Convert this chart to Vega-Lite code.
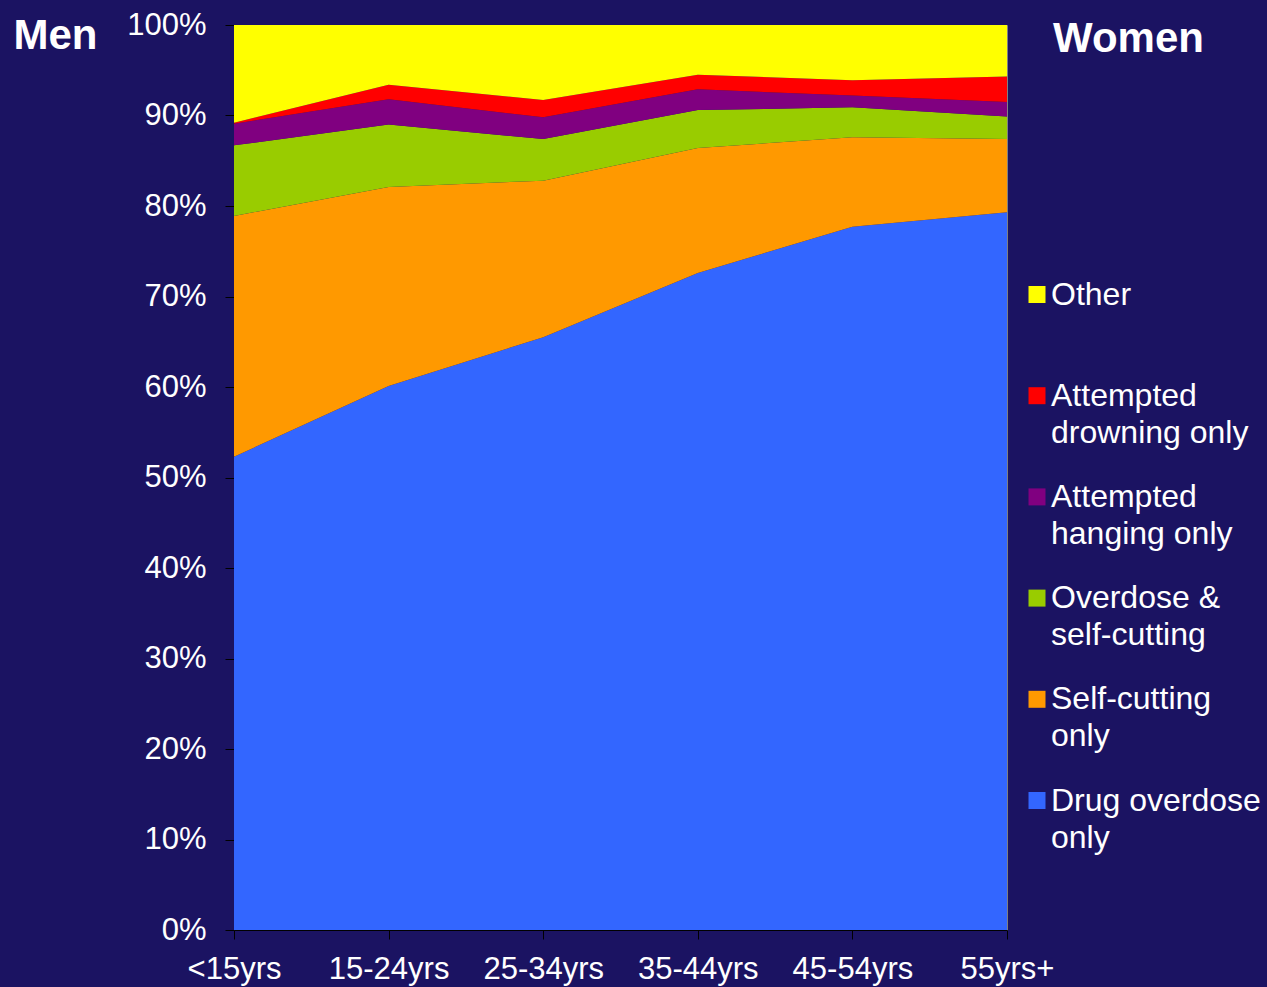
{
  "$schema": "https://vega.github.io/schema/vega-lite/v6.json",
  "width": 773,
  "height": 905,
  "autosize": {"type": "none"},
  "padding": {"left": 234, "top": 25, "right": 260, "bottom": 57},
  "background": "#1b1362",
  "data": {
    "values": [
      {"age": "<15yrs", "method": "Drug overdose only", "pct": 52.3},
      {"age": "<15yrs", "method": "Self-cutting only", "pct": 26.6},
      {"age": "<15yrs", "method": "Overdose & self-cutting", "pct": 7.8},
      {"age": "<15yrs", "method": "Attempted hanging only", "pct": 2.4},
      {"age": "<15yrs", "method": "Attempted drowning only", "pct": 0.1},
      {"age": "<15yrs", "method": "Other", "pct": 10.8},
      {"age": "15-24yrs", "method": "Drug overdose only", "pct": 60.1},
      {"age": "15-24yrs", "method": "Self-cutting only", "pct": 22.0},
      {"age": "15-24yrs", "method": "Overdose & self-cutting", "pct": 6.9},
      {"age": "15-24yrs", "method": "Attempted hanging only", "pct": 2.8},
      {"age": "15-24yrs", "method": "Attempted drowning only", "pct": 1.6},
      {"age": "15-24yrs", "method": "Other", "pct": 6.6},
      {"age": "25-34yrs", "method": "Drug overdose only", "pct": 65.5},
      {"age": "25-34yrs", "method": "Self-cutting only", "pct": 17.3},
      {"age": "25-34yrs", "method": "Overdose & self-cutting", "pct": 4.6},
      {"age": "25-34yrs", "method": "Attempted hanging only", "pct": 2.4},
      {"age": "25-34yrs", "method": "Attempted drowning only", "pct": 1.9},
      {"age": "25-34yrs", "method": "Other", "pct": 8.3},
      {"age": "35-44yrs", "method": "Drug overdose only", "pct": 72.6},
      {"age": "35-44yrs", "method": "Self-cutting only", "pct": 13.8},
      {"age": "35-44yrs", "method": "Overdose & self-cutting", "pct": 4.2},
      {"age": "35-44yrs", "method": "Attempted hanging only", "pct": 2.3},
      {"age": "35-44yrs", "method": "Attempted drowning only", "pct": 1.6},
      {"age": "35-44yrs", "method": "Other", "pct": 5.5},
      {"age": "45-54yrs", "method": "Drug overdose only", "pct": 77.7},
      {"age": "45-54yrs", "method": "Self-cutting only", "pct": 9.9},
      {"age": "45-54yrs", "method": "Overdose & self-cutting", "pct": 3.3},
      {"age": "45-54yrs", "method": "Attempted hanging only", "pct": 1.3},
      {"age": "45-54yrs", "method": "Attempted drowning only", "pct": 1.7},
      {"age": "45-54yrs", "method": "Other", "pct": 6.1},
      {"age": "55yrs+", "method": "Drug overdose only", "pct": 79.3},
      {"age": "55yrs+", "method": "Self-cutting only", "pct": 8.1},
      {"age": "55yrs+", "method": "Overdose & self-cutting", "pct": 2.5},
      {"age": "55yrs+", "method": "Attempted hanging only", "pct": 1.6},
      {"age": "55yrs+", "method": "Attempted drowning only", "pct": 2.8},
      {"age": "55yrs+", "method": "Other", "pct": 5.7}
    ]
  },
  "transform": [
    {"calculate": "indexof(['Drug overdose only', 'Self-cutting only', 'Overdose & self-cutting', 'Attempted hanging only', 'Attempted drowning only', 'Other'], datum.method)", "as": "rank"}
  ],
  "mark": {"type": "area", "interpolate": "linear", "opacity": 1, "strokeWidth": 0},
  "encoding": {
    "x": {
      "field": "age",
      "type": "ordinal",
      "sort": ["<15yrs", "15-24yrs", "25-34yrs", "35-44yrs", "45-54yrs", "55yrs+"],
      "scale": {"type": "point", "padding": 0},
      "axis": {
        "title": null,
        "labelAngle": 0,
        "labelFont": "Liberation Sans",
        "labelFontSize": 31,
        "labelColor": "#ffffff",
        "labelPadding": 15,
        "tickSize": 9,
        "tickColor": "#000000",
        "domainColor": "#000000",
        "grid": false
      }
    },
    "y": {
      "field": "pct",
      "type": "quantitative",
      "stack": "normalize",
      "scale": {"domain": [0, 1], "nice": false},
      "axis": {
        "values": [0, 0.1, 0.2, 0.3, 0.4, 0.5, 0.6, 0.7, 0.8, 0.9, 1],
        "format": ".0%",
        "labelFont": "Liberation Sans",
        "labelFontSize": 31,
        "labelColor": "#ffffff",
        "labelPadding": 19,
        "tickSize": 9,
        "tickColor": "#000000",
        "domainColor": "#000000",
        "grid": false,
        "title": "Men",
        "titleAngle": 0,
        "titleAlign": "left",
        "titleBaseline": "alphabetic",
        "titleX": -221,
        "titleY": 23,
        "titleFont": "Liberation Sans",
        "titleFontSize": 42,
        "titleFontWeight": "bold",
        "titleColor": "#ffffff"
      }
    },
    "order": {"field": "rank", "type": "quantitative", "sort": "ascending"},
    "color": {
      "field": "method",
      "type": "nominal",
      "scale": {
        "domain": ["Drug overdose only", "Self-cutting only", "Overdose & self-cutting", "Attempted hanging only", "Attempted drowning only", "Other"],
        "range": ["#3366ff", "#ff9900", "#99cc00", "#800080", "#ff0000", "#ffff00"]
      },
      "legend": {
        "title": "Women",
        "titleFont": "Liberation Sans",
        "titleFontSize": 42,
        "titleFontWeight": "bold",
        "titleColor": "#ffffff",
        "titleBaseline": "top",
        "titlePadding": 217.5,
        "titleLimit": 400,
        "orient": "none",
        "legendX": 787,
        "legendY": -6,
        "direction": "vertical",
        "columns": 1,
        "gridAlign": "all",
        "rowPadding": 32.2,
        "padding": 0,
        "values": ["Other", "Attempted drowning only", "Attempted hanging only", "Overdose & self-cutting", "Self-cutting only", "Drug overdose only"],
        "symbolType": "square",
        "symbolSize": 289,
        "symbolStrokeWidth": 0,
        "symbolOpacity": 1,
        "labelFont": "Liberation Sans",
        "labelFontSize": 32,
        "labelColor": "#ffffff",
        "labelLimit": 400,
        "labelOffset": -2,
        "labelBaseline": "middle",
        "labelExpr": "datum.label == 'Attempted drowning only' ? ['Attempted', 'drowning only'] : datum.label == 'Attempted hanging only' ? ['Attempted', 'hanging only'] : datum.label == 'Overdose & self-cutting' ? ['Overdose &', 'self-cutting'] : datum.label == 'Self-cutting only' ? ['Self-cutting', 'only'] : datum.label == 'Drug overdose only' ? ['Drug overdose', 'only'] : datum.label",
        "encode": {
          "labels": {"update": {"lineHeight": {"value": 37}}},
          "title": {"update": {"dx": {"value": 32}}}
        }
      }
    }
  },
  "config": {
    "view": {"stroke": "#808080", "strokeWidth": 1}
  }
}
